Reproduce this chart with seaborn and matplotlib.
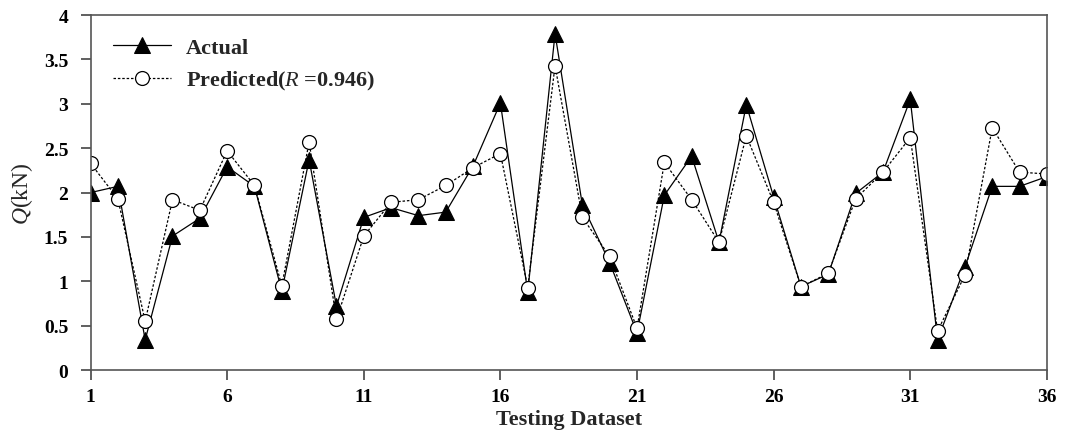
import numpy as np
import pandas as pd
import matplotlib
matplotlib.use("Agg")
import matplotlib.pyplot as plt
import seaborn as sns

# testing samples 1..36
sample_idx = list(range(1, 37))
actual = [2.00, 2.07, 0.34, 1.51, 1.71, 2.29, 2.07, 0.89, 2.37, 0.72,
          1.72, 1.83, 1.74, 1.78, 2.30, 3.01, 0.88, 3.79, 1.86, 1.21,
          0.42, 1.97, 2.41, 1.44, 2.99, 1.95, 0.94, 1.08, 1.99, 2.23,
          3.05, 0.34, 1.16, 2.07, 2.07, 2.18]
predicted = [2.33, 1.93, 0.55, 1.92, 1.80, 2.47, 2.08, 0.95, 2.57, 0.57,
             1.51, 1.89, 1.92, 2.08, 2.28, 2.44, 0.93, 3.43, 1.72, 1.28,
             0.47, 2.34, 1.92, 1.44, 2.64, 1.89, 0.94, 1.09, 1.93, 2.23,
             2.62, 0.44, 1.07, 2.73, 2.23, 2.21]
x_ticks = [1, 6, 11, 16, 21, 26, 31, 36]
y_ticks = [0, 0.5, 1, 1.5, 2, 2.5, 3, 3.5, 4]
y_tick_labels = ['0', '0.5', '1', '1.5', '2', '2.5', '3', '3.5', '4']

df = pd.DataFrame({'idx': sample_idx, 'actual': actual, 'predicted': predicted})

sns.set_theme(style="ticks")
plt.rcParams['font.family'] = ['Liberation Serif', 'DejaVu Serif']
plt.rcParams['mathtext.fontset'] = 'custom'
plt.rcParams['mathtext.rm'] = 'Liberation Serif'
plt.rcParams['mathtext.it'] = 'Liberation Serif:italic'
plt.rcParams['mathtext.bf'] = 'Liberation Serif:bold'
plt.rcParams['mathtext.bfit'] = 'Liberation Serif:italic:bold'
plt.rcParams['xtick.bottom'] = True
plt.rcParams['ytick.left'] = True
plt.rcParams['xtick.major.size'] = 7
plt.rcParams['ytick.major.size'] = 7
plt.rcParams['xtick.major.width'] = 1.2
plt.rcParams['ytick.major.width'] = 1.2
plt.rcParams['xtick.color'] = '#444444'
plt.rcParams['ytick.color'] = '#444444'
plt.rcParams['xtick.labelcolor'] = 'black'
plt.rcParams['ytick.labelcolor'] = 'black'

fig = plt.figure(figsize=(10.65, 4.35), dpi=100)
ax = fig.add_axes([0.085, 0.147, 0.898, 0.816])

sns.lineplot(data=df, x='idx', y='actual', ax=ax, color='black', linewidth=0.9,
             marker='^', markersize=11, markerfacecolor='black', markeredgecolor='black',
             label='Actual')
sns.lineplot(data=df, x='idx', y='predicted', ax=ax, color='black', linewidth=0.9,
             linestyle=(0, (2, 1.5)), marker='o', markersize=10, markerfacecolor='white',
             markeredgecolor='black', markeredgewidth=0.9,
             label='Predicted($\\mathit{R}$ =0.946)')

ax.set_xlim(1, 36)
ax.set_ylim(0, 4)
ax.set_xticks(x_ticks)
ax.set_yticks(y_ticks)
ax.set_xticklabels([str(v) for v in x_ticks], fontsize=14, fontweight='bold')
ax.set_yticklabels(y_tick_labels, fontsize=14, fontweight='bold')
ax.tick_params(axis='y', pad=9)
ax.tick_params(axis='x', pad=6)

for s in ax.spines.values():
    s.set_visible(True)
    s.set_color('#555555')
    s.set_linewidth(1.2)

ax.set_xlabel('Testing Dataset', fontsize=16, fontweight='bold', labelpad=3)
ax.set_ylabel('$\\mathit{Q}$(kN)', fontsize=17, labelpad=6)

leg = ax.legend(loc='upper left', frameon=False, fontsize=16, handlelength=2.6,
                handletextpad=0.7, bbox_to_anchor=(0.0, 1.0), borderaxespad=0.6,
                labelspacing=0.5)
for t in leg.get_texts():
    t.set_fontweight('bold')

fig.savefig('out.png', dpi=100)
